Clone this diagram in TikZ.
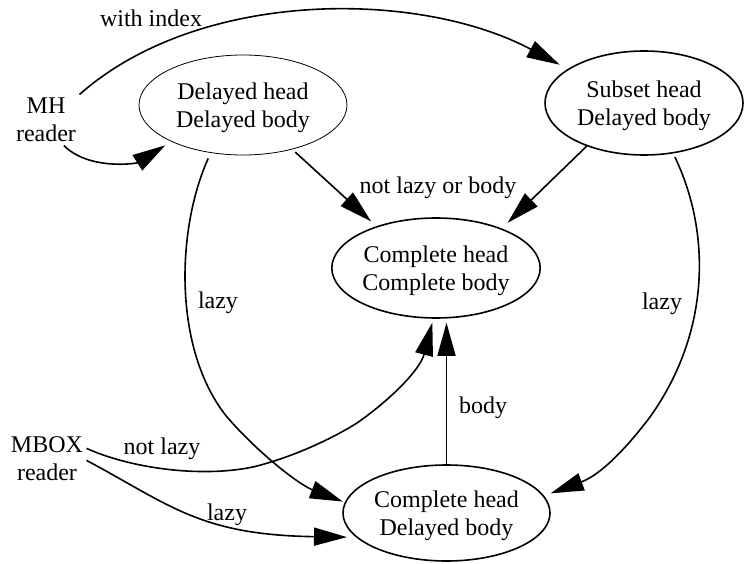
\documentclass[tikz,border=0pt]{standalone}
\usepackage{fontspec}
\setmainfont{Liberation Serif}
\usetikzlibrary{arrows.meta,shapes.geometric}
\newcommand\txtlift{\rule{0pt}{23pt}}
\begin{document}
\begin{tikzpicture}[x=1pt,y=-1pt,
  every node/.style={font=\fontsize{24}{28}\selectfont, align=center},
  st/.style={draw, ellipse, line width=1.6pt, inner sep=0pt},
  thinst/.style={st, line width=0.8pt},
  lbl/.style={inner sep=0pt, anchor=base},
  arr/.style={-{Triangle[length=33pt,width=18pt]}, line width=1.6pt, shorten >=7pt},
]
\useasboundingbox (0,0) rectangle (744,564);

% states
\node[thinst, minimum width=208pt, minimum height=100pt] (dh) at (243,105) {\txtlift Delayed head\\Delayed body};
\node[st, minimum width=198pt, minimum height=104pt] (ss) at (644,103) {\txtlift Subset head\\Delayed body};
\node[st, minimum width=206pt, minimum height=100pt] (cc) at (436,268) {\txtlift Complete head\\Complete body};
\node[st, minimum width=207pt, minimum height=96pt] (cd) at (446.5,513) {\txtlift Complete head\\Delayed body};

% readers
\node (mh) at (46,120) {MH\\reader};
\node (mb) at (47,459) {MBOX\\reader};

% edges
\draw[arr, shorten >=9pt] (mh.north east) .. controls (200,-12) and (420,-10) .. (ss.156);
\draw[arr] (mh.-55) .. controls +(25,25) and +(-35,22) .. (dh.207);
\draw[arr, shorten <=4pt] (dh.-42) -- (cc.145);
\draw[arr, shorten >=8pt] (ss.217) -- (cc.31);
\draw[arr, shorten <=6pt, shorten >=2pt] (dh.236) .. controls (176,230) and (173,350) .. (227,417)
      .. controls (260,455) and (300,485) .. (cd.174);
\draw[arr, shorten <=4pt] (ss.-60) .. controls (710,230) and (712,330) .. (650,417)
      .. controls (625,450) and (600,475) .. (cd.10);
\draw[arr, shorten >=4pt] (mb.15) .. controls (130,468) and (200,478) .. (253,467)
      .. controls (290,458) and (330,440) .. (357,423)
      .. controls (390,400) and (420,370) .. (cc.-93);
\draw[arr, shorten >=9pt] (mb.-2) .. controls (170,505) and (200,535) .. (cd.195);
\draw[arr, shorten >=4pt] (cd.north) -- (cd.north |- cc.south);

% labels
\node[lbl] (l1) at (151,27) {with index};
\node[lbl] (l2) at (438,194) {not lazy or body};
\node[lbl] (l3) at (218,308) {lazy};
\node[lbl] (l4) at (662,309) {lazy};
\node[lbl] (l5) at (162,454) {not lazy};
\node[lbl] (l6) at (227,520) {lazy};
\node[lbl] (l7) at (483,413) {body};
\end{tikzpicture}
\end{document}
